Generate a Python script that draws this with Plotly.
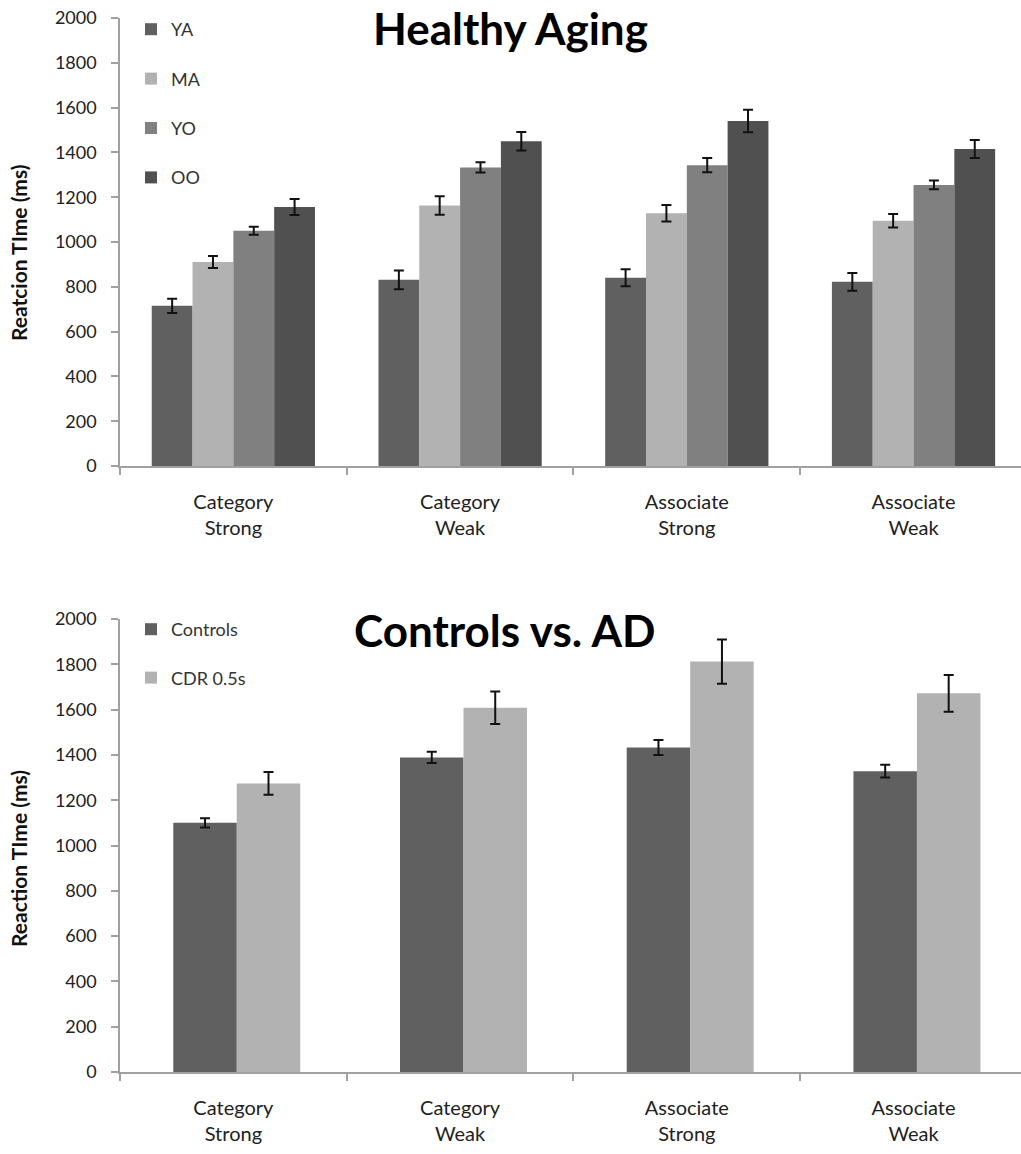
import plotly.graph_objects as go

categories = ["Category<br>Strong", "Category<br>Weak", "Associate<br>Strong", "Associate<br>Weak"]

# Healthy Aging
aging_groups = ["YA", "MA", "YO", "OO"]
aging_values = {
    "YA": [715, 831, 840, 822],
    "MA": [911, 1163, 1128, 1095],
    "YO": [1050, 1333, 1343, 1255],
    "OO": [1156, 1450, 1540, 1415],
}
aging_errors = {
    "YA": [32, 42, 38, 40],
    "MA": [27, 41, 37, 30],
    "YO": [18, 23, 32, 20],
    "OO": [36, 41, 50, 40],
}
aging_colors = {"YA": "#606060", "MA": "#b2b2b2", "YO": "#808080", "OO": "#505050"}

# Controls vs AD
ad_groups = ["Controls", "CDR 0.5s"]
ad_values = {
    "Controls": [1100, 1389, 1433, 1328],
    "CDR 0.5s": [1274, 1608, 1812, 1672],
}
ad_errors = {
    "Controls": [20, 25, 33, 28],
    "CDR 0.5s": [50, 72, 98, 81],
}
ad_colors = {"Controls": "#606060", "CDR 0.5s": "#b2b2b2"}

yticks = [0, 200, 400, 600, 800, 1000, 1200, 1400, 1600, 1800, 2000]

FONT = "Lato"
W, H = 1021, 1154
L = 120

def py(p):
    return 1 - p / H

def px(p):
    return (p - L) / (W - L)

fig = go.Figure()

for g in aging_groups:
    fig.add_trace(go.Bar(
        x=categories, y=aging_values[g], name=g,
        marker=dict(color=aging_colors[g], line=dict(width=0)),
        error_y=dict(type="data", array=aging_errors[g], color="#111111", thickness=2, width=5),
        xaxis="x", yaxis="y", legend="legend", legendgroup=g,
    ))

ad_bar_width = 0.28
for i, g in enumerate(ad_groups):
    fig.add_trace(go.Bar(
        x=categories, y=ad_values[g], name=g,
        marker=dict(color=ad_colors[g], line=dict(width=0)),
        error_y=dict(type="data", array=ad_errors[g], color="#111111", thickness=2, width=5),
        xaxis="x2", yaxis="y2", legend="legend2", legendgroup=g,
        width=ad_bar_width, offset=-ad_bar_width + i * ad_bar_width + 0.015,
    ))

axis_common = dict(
    showline=True, linecolor="#a0a0a0", linewidth=1.5,
    showgrid=False, zeroline=False,
    ticks="outside", tickcolor="#a0a0a0", ticklen=7, tickwidth=1.5,
)
xfont = dict(family=FONT, size=20, color="#222222")
yfont = dict(family=FONT, size=18, color="#222222")

fig.update_layout(
    width=W, height=H,
    margin=dict(l=L, r=0, t=0, b=0, autoexpand=False),
    paper_bgcolor="white", plot_bgcolor="white",
    barmode="group",
    bargap=0.28,
    xaxis=dict(domain=[0, 1], anchor="y", type="category", range=[-0.5, 3.474],
               tickson="boundaries", tickfont=xfont, ticklabelstandoff=17, **axis_common),
    yaxis=dict(domain=[py(466), py(18)], anchor="x", range=[0, 2000],
               tickvals=yticks, tickfont=yfont, ticklabelstandoff=11, **axis_common),
    xaxis2=dict(domain=[0, 1], anchor="y2", type="category", range=[-0.5, 3.474],
                tickson="boundaries", tickfont=xfont, ticklabelstandoff=17, **axis_common),
    yaxis2=dict(domain=[py(1072), py(619)], anchor="x2", range=[0, 2000],
                tickvals=yticks, tickfont=yfont, ticklabelstandoff=11, **axis_common),
    legend=dict(x=px(131), y=py(11), xanchor="left", yanchor="top", orientation="v",
                font=dict(family=FONT, size=18, color="#333"), tracegroupgap=23,
                bgcolor="rgba(0,0,0,0)", itemwidth=30),
    legend2=dict(x=px(131), y=py(611), xanchor="left", yanchor="top", orientation="v",
                 font=dict(family=FONT, size=18, color="#333"), tracegroupgap=22,
                 bgcolor="rgba(0,0,0,0)", itemwidth=30),
    annotations=[
        dict(text="<b>Healthy Aging</b>", x=px(510), xref="paper", y=py(28), yref="paper",
             xanchor="center", yanchor="middle",
             showarrow=False, font=dict(family=FONT, size=44, color="#000")),
        dict(text="<b>Controls vs. AD</b>", x=px(505), xref="paper", y=py(630), yref="paper",
             xanchor="center", yanchor="middle",
             showarrow=False, font=dict(family=FONT, size=44, color="#000")),
        dict(text="<b>Reatcion TIme (ms)</b>", x=px(18), xref="paper", y=py(253), yref="paper",
             xanchor="center", yanchor="middle", textangle=-90,
             showarrow=False, font=dict(family=FONT, size=21, color="#111")),
        dict(text="<b>Reaction TIme (ms)</b>", x=px(18), xref="paper", y=py(859), yref="paper",
             xanchor="center", yanchor="middle", textangle=-90,
             showarrow=False, font=dict(family=FONT, size=21, color="#111")),
    ],
)

fig.write_html("out.html", config={"displayModeBar": False},
               post_script="document.body.style.margin='0';")
